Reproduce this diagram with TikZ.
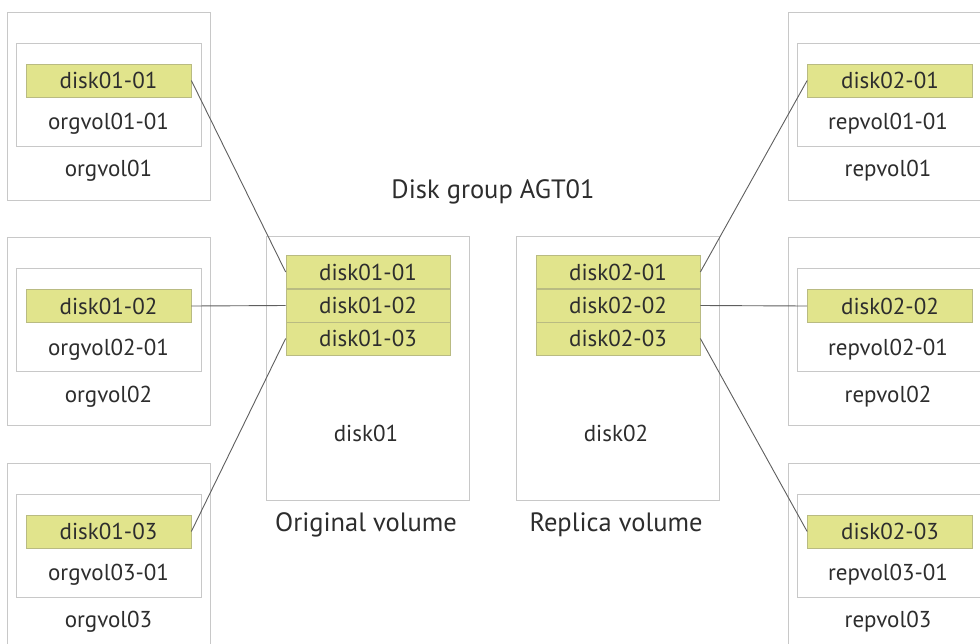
\documentclass[tikz,border=0pt]{standalone}
\usepackage{fontspec}
\setmainfont{PT Sans}
\usepackage{tikz}
\usetikzlibrary{positioning}
\usepackage{xcolor}
\definecolor{cellyellow}{RGB}{225,228,140}
\definecolor{cellrim}{RGB}{185,187,130}
\definecolor{boxrim}{RGB}{200,200,200}
\definecolor{linkgray}{RGB}{95,95,95}
\definecolor{txtgray}{RGB}{45,45,45}

\begin{document}
\begin{tikzpicture}[x=1pt, y=-1pt,
  every node/.style={font=\fontsize{23}{26}\selectfont, text=txtgray, inner sep=0pt},
  biglabel/.style={font=\fontsize{26.5}{30}\selectfont},
  outerbox/.style={draw=boxrim, line width=0.9pt, minimum width=203pt, minimum height=188pt},
  innerbox/.style={draw=boxrim, line width=0.9pt, minimum width=185pt, minimum height=103pt},
  diskcell/.style={draw=cellrim, fill=cellyellow, line width=0.7pt, minimum width=165pt, minimum height=33pt},
  diskbox/.style={draw=boxrim, line width=0.9pt, minimum width=203pt, minimum height=264pt},
  link/.style={draw=linkgray, line width=0.9pt}]
  \clip (0,0) rectangle (980,643);
  \fill[white] (0,0) rectangle (980,643);

  % original side
  \node (org1) [outerbox] at (108.5,106) {};
  \node (org1i) [innerbox] at (108.5,94.5) {};
  \node (org1d) [diskcell] at (108.5,80.5) {disk01-01};
  \node (org1s) at (108.5,124) {orgvol01-01};
  \node (org1n) at (108.5,171) {orgvol01};

  \node (org2) [outerbox] at (108.5,331.5) {};
  \node (org2i) [innerbox] at (108.5,320) {};
  \node (org2d) [diskcell] at (108.5,306) {disk01-02};
  \node (org2s) at (108.5,349.5) {orgvol02-01};
  \node (org2n) at (108.5,396.5) {orgvol02};

  \node (org3) [outerbox] at (108.5,557) {};
  \node (org3i) [innerbox] at (108.5,545.5) {};
  \node (org3d) [diskcell] at (108.5,531.5) {disk01-03};
  \node (org3s) at (108.5,575) {orgvol03-01};
  \node (org3n) at (108.5,622) {orgvol03};

  % replica side
  \node (rep1) [outerbox] at (889.5,106) {};
  \node (rep1i) [innerbox] at (889.5,94.5) {};
  \node (rep1d) [diskcell] at (890,80.5) {disk02-01};
  \node (rep1s) at (888,124) {repvol01-01};
  \node (rep1n) at (888,171) {repvol01};

  \node (rep2) [outerbox] at (889.5,331.5) {};
  \node (rep2i) [innerbox] at (889.5,320) {};
  \node (rep2d) [diskcell] at (890,306) {disk02-02};
  \node (rep2s) at (888,349.5) {repvol02-01};
  \node (rep2n) at (888,396.5) {repvol02};

  \node (rep3) [outerbox] at (889.5,557) {};
  \node (rep3i) [innerbox] at (889.5,545.5) {};
  \node (rep3d) [diskcell] at (890,531.5) {disk02-03};
  \node (rep3s) at (888,575) {repvol03-01};
  \node (rep3n) at (888,622) {repvol03};

  % disk group
  \node (group) [biglabel] at (493,192) {Disk group AGT01};

  \node (disk1) [diskbox] at (368,368) {};
  \node (d1a) [diskcell, minimum width=164pt] at (368,272) {disk01-01};
  \node (d1b) [diskcell, minimum width=164pt] at (368,305.5) {disk01-02};
  \node (d1c) [diskcell, minimum width=164pt] at (368,338.5) {disk01-03};
  \node (disk1n) at (366,433) {disk01};
  \node (orglabel) [biglabel] at (366,525) {Original volume};

  \node (disk2) [diskbox] at (618,368) {};
  \node (d2a) [diskcell, minimum width=164pt] at (618,272) {disk02-01};
  \node (d2b) [diskcell, minimum width=164pt] at (618,305.5) {disk02-02};
  \node (d2c) [diskcell, minimum width=164pt] at (618,338.5) {disk02-03};
  \node (disk2n) at (616,433) {disk02};
  \node (replabel) [biglabel] at (616,525) {Replica volume};

  % connections
  \draw[link] (org1d.east) -- (d1a.west);
  \draw[link] (org2d.east) -- (d1b.west);
  \draw[link] (org3d.east) -- (d1c.west);
  \draw[link] (d2a.east) -- (rep1d.west);
  \draw[link] (d2b.east) -- (rep2d.west);
  \draw[link] (d2c.east) -- (rep3d.west);
\end{tikzpicture}
\end{document}
